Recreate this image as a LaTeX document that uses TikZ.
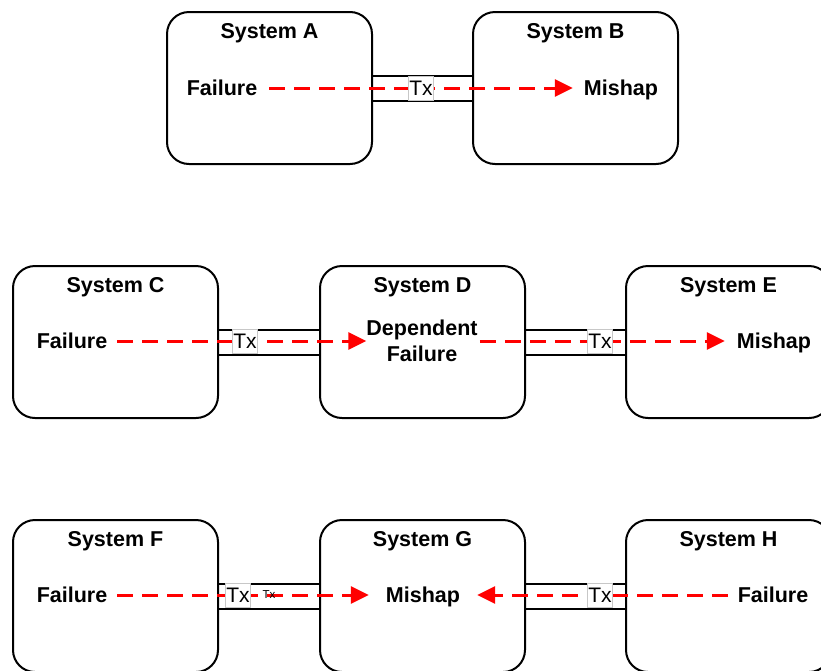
\documentclass[tikz,border=0pt]{standalone}
\usepackage{fontspec}
\setmainfont{Liberation Sans}
\usetikzlibrary{arrows.meta,calc}
\begin{document}
\begin{tikzpicture}[x=1pt,y=-1pt,
  sysbox/.style={draw=black, line width=2pt, rounded corners=22pt,
    minimum width=205pt, minimum height=152pt, inner sep=0pt},
  title/.style={font=\fontsize{21.5}{25}\selectfont\bfseries, inner sep=0pt,
    text height=15.5pt, text depth=0pt},
  lbl/.style={font=\fontsize{21.5}{25}\selectfont\bfseries, inner sep=0pt,
    text height=15.5pt, text depth=0pt},
  twoline/.style={font=\fontsize{21.5}{25.5}\selectfont\bfseries, inner sep=0pt, align=center},
  link/.style={line width=2pt},
  txbox/.style={fill=white, draw=black!22, line width=0.8pt, minimum width=25pt,
    minimum height=24pt, inner sep=0pt, font=\fontsize{21}{24}\selectfont},
  txsmall/.style={inner sep=0pt, font=\fontsize{11.5}{13}\selectfont},
  prop/.style={draw=red, line width=3pt, dash pattern=on 16pt off 9pt,
    -{Triangle[length=18pt,width=17pt]}},
]
\useasboundingbox (0,0) rectangle (821,670);

% ---- systems ----
\node[sysbox] (A) at (269.5,88) {};
\node[sysbox] (B) at (575.5,88) {};
\node[sysbox] (C) at (115.5,342) {};
\node[sysbox] (D) at (422.5,342) {};
\node[sysbox] (E) at (728.5,342) {};
\node[sysbox] (F) at (115.5,596) {};
\node[sysbox] (G) at (422.5,596) {};
\node[sysbox] (H) at (728.5,596) {};

% ---- titles ----
\foreach \s/\t in {A/System A,B/System B,C/System C,D/System D,E/System E,F/System F,G/System G,H/System H}
  \node[title] (t\s) at ($(\s.north)+(0,20)$) {\t};

% ---- transmission links ----
\foreach \a/\b in {A/B,C/D,D/E,F/G,G/H}{
  \draw[link] ($(\a.east)+(0,-12.5)$) -- ($(\b.west)+(0,-12.5)$);
  \draw[link] ($(\a.east)+(0,12.5)$) -- ($(\b.west)+(0,12.5)$);
}

% ---- event labels ----
\node[lbl] (failA) at (222,88) {Failure};
\node[lbl] (mishB) at (621,88) {Mishap};
\node[lbl] (failC) at (72,341) {Failure};
\node[twoline] (depD) at (422,341) {Dependent\\Failure};
\node[lbl] (mishE) at (774,341) {Mishap};
\node[lbl] (failF) at (72,595) {Failure};
\node[lbl] (mishG) at (423,595) {Mishap};
\node[lbl] (failH) at (773,595) {Failure};

% ---- propagation paths ----
\draw[prop, shorten <=12pt, shorten >=11pt] (failA.east) -- (mishB.west);
\draw[prop, shorten <=10pt] (failC.east) -- (depD.west);
\draw[prop, shorten <=2pt, shorten >=12pt] (depD.east) -- (mishE.west);
\draw[prop, shorten <=10pt, shorten >=17pt] (failF.east) -- (mishG.west);
\draw[prop, shorten <=10pt, shorten >=17pt] (failH.west) -- (mishG.east);

% ---- Tx markers ----
\node[txbox] (txAB) at (421,88) {Tx};
\node[txbox] (txCD) at (245,341) {Tx};
\node[txbox] (txDE) at (600,341) {Tx};
\node[txbox] (txFG) at (238,595) {Tx};
\node[txsmall] (txFG2) at (269,595) {Tx};
\node[txbox] (txGH) at (600,595) {Tx};
\end{tikzpicture}
\end{document}
